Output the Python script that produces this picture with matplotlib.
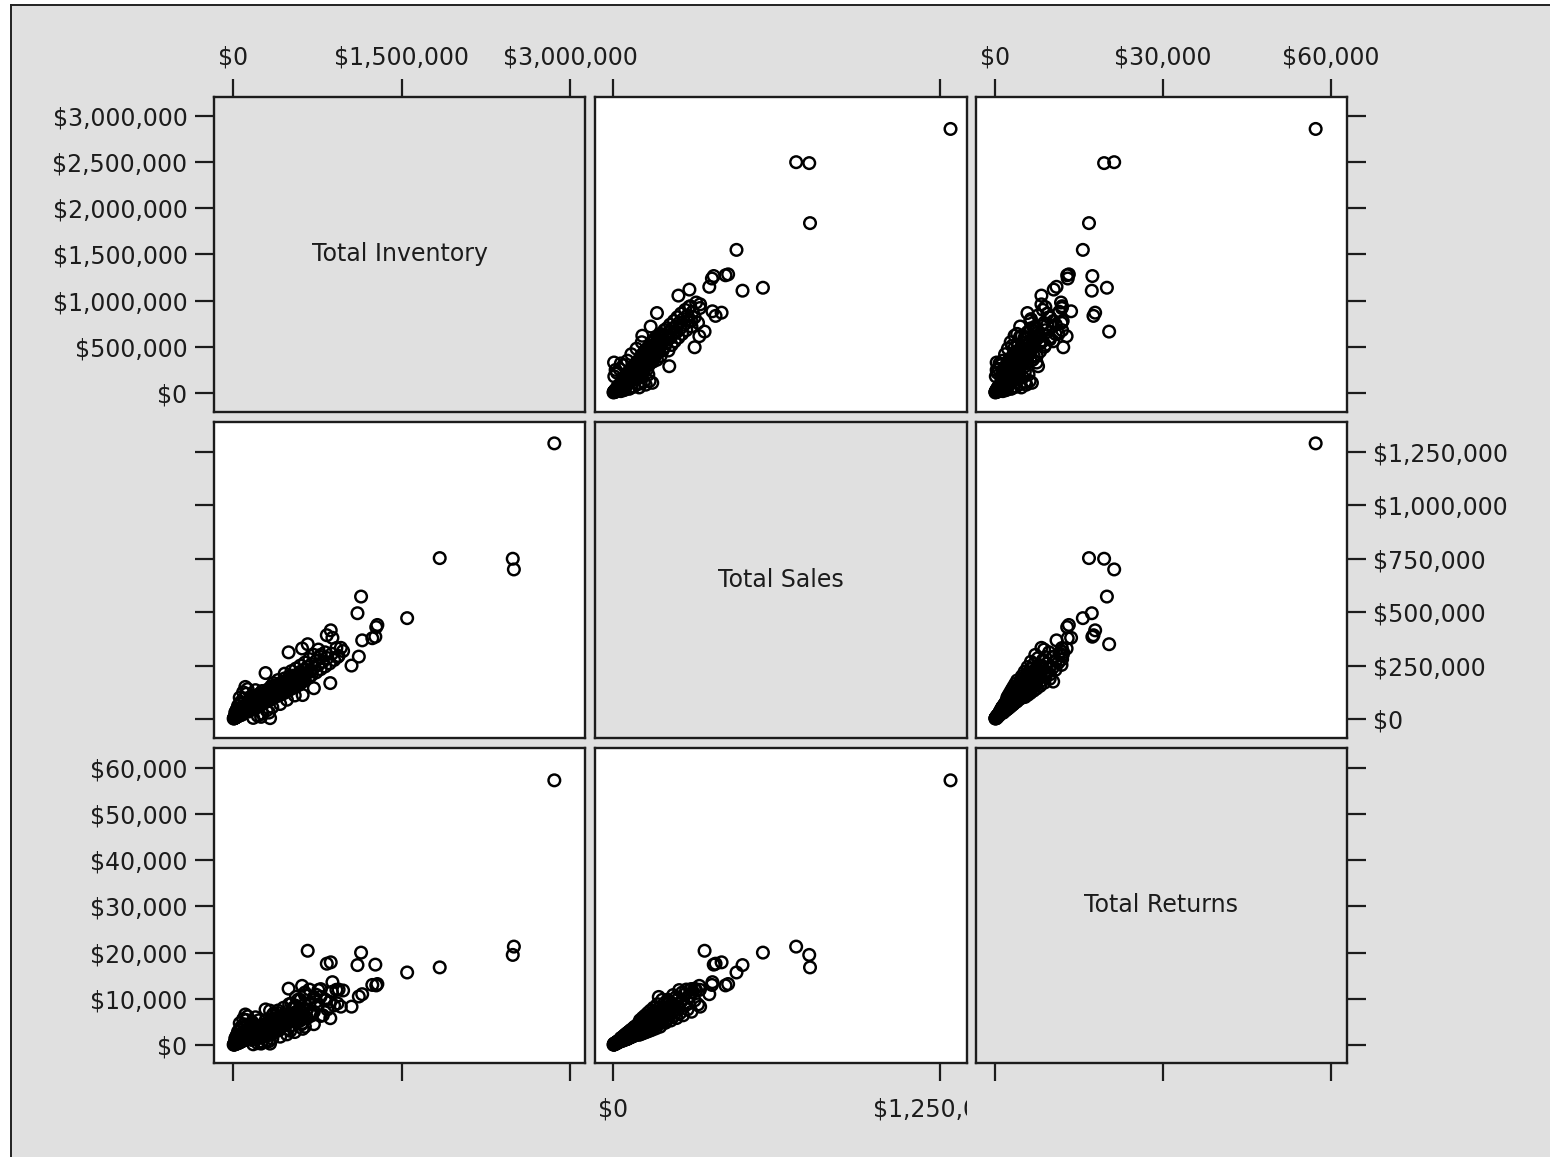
import matplotlib
matplotlib.use("Agg")
import matplotlib.pyplot as plt
from matplotlib.lines import Line2D
from matplotlib.patches import Rectangle
from matplotlib.transforms import Bbox, TransformedBbox
from matplotlib.ticker import FuncFormatter

# ---------------- data (inventory & sales in $ thousands, returns in $) ----------------
variables = ["Total Inventory", "Total Sales", "Total Returns"]

outlier_inventory_k = [2860, 2490, 2500, 1840, 1550, 1140, 1108, 870, 835, 1267,
                       665, 1285, 1275, 885, 1055, 1120, 866, 330, 290, 615,
                       495, 780, 1150, 1240, 720, 620, 930, 960, 560]
outlier_sales_k = [1290, 750, 700, 753, 472, 573, 495, 415, 392, 385,
                   350, 440, 430, 380, 250, 292, 168, 4, 215, 330,
                   312, 300, 368, 378, 144, 112, 290, 333, 175]
outlier_returns = [57300, 19500, 21300, 16800, 15700, 20000, 17300, 17900, 17600, 17400,
                   20400, 13200, 12900, 13600, 8300, 10500, 5800, 300, 7700, 12800,
                   12200, 12100, 11000, 13000, 4500, 3500, 9000, 8300, 10400]

small_inventory_k = [6, 9, 14, 11, 17, 21, 13, 24, 19, 29, 15, 33, 27, 38, 22, 41, 35, 18, 47, 30,
                     52, 39, 26, 58, 44, 63, 34, 55, 70, 48, 29, 66, 53, 75, 40, 61, 82, 47, 71, 88,
                     57, 36, 79, 95, 64, 44, 86, 101, 70, 52, 92, 108, 77, 58, 99, 115, 84, 64, 106, 122]
small_sales_k = [2, 3, 4, 5, 5, 6, 7, 7, 8, 9, 9, 10, 11, 11, 12, 13, 13, 14, 14, 15,
                 16, 16, 17, 17, 18, 18, 19, 19, 20, 20, 21, 22, 22, 23, 24, 24, 25, 26, 26, 27,
                 28, 28, 29, 30, 30, 31, 32, 32, 33, 34, 35, 35, 36, 37, 38, 38, 39, 40, 41, 42]
small_returns = [70, 120, 95, 210, 160, 250, 190, 310, 220, 340, 410, 290, 430, 510, 360, 530, 470, 620, 390, 570,
                 650, 490, 710, 530, 780, 650, 590, 730, 830, 610, 770, 690, 920, 810, 970, 730, 890, 1040, 830, 1010,
                 920, 1130, 980, 1160, 890, 1260, 1010, 1210, 1090, 1310, 1430, 1110, 1360, 1190, 1460, 1560, 1260, 1510, 1320, 1590]

lower_inventory_k = [88, 121, 165, 95, 134, 170, 101, 143, 186, 107, 150, 199, 113, 155, 208, 120, 167, 219, 124, 176,
                     231, 131, 180, 240, 137, 193, 251, 142, 201, 262, 149, 210, 268, 155, 219, 284, 160, 226, 295, 167,
                     235, 299, 172, 244, 318, 178, 247, 320, 185, 261, 338, 190, 263, 349, 197, 277]
lower_sales_k = [43, 44, 45, 46, 47, 48, 49, 50, 51, 52, 53, 54, 55, 56, 57, 58, 59, 60, 61, 62,
                 63, 64, 65, 66, 67, 68, 69, 70, 71, 72, 73, 74, 75, 76, 77, 78, 79, 80, 81, 82,
                 83, 84, 85, 86, 87, 88, 89, 90, 91, 92, 93, 94, 95, 96, 97, 98]
lower_returns = [1940, 1460, 1110, 2050, 1570, 1210, 2180, 1640, 1300, 2330, 1770, 1340, 2470, 1860, 1430, 2590, 1960, 1490, 2760, 2030,
                 1600, 2860, 2170, 1640, 3010, 2220, 1740, 3170, 2360, 1790, 3260, 2420, 1900, 3440, 2550, 1930, 3530, 2660, 2050, 3710,
                 2720, 2120, 3800, 2860, 2160, 3980, 2960, 2270, 4080, 3020, 2350, 4250, 3160, 2380, 4330, 3250]

middle_inventory_k = [250, 330, 210, 290, 370, 260, 310, 400, 240, 340, 280, 420, 300, 360, 230, 390, 320, 450, 270, 350,
                      410, 290, 470, 380, 330, 440, 260, 400, 490, 350, 430, 310, 510, 380, 460, 330, 420, 540, 360, 480,
                      400, 560, 340, 450, 510, 380, 590, 470, 420, 540, 360, 500, 610, 440, 560, 480, 640, 400, 520, 600,
                      460, 560, 680, 500]
middle_sales_k = [100, 101, 102, 103, 104, 106, 107, 108, 109, 110, 112, 113, 114, 115, 116, 118, 119, 120, 121, 122,
                  124, 125, 126, 127, 129, 130, 131, 133, 134, 135, 137, 138, 139, 140, 142, 143, 145, 146, 147, 149,
                  150, 152, 153, 155, 157, 158, 160, 162, 164, 166, 168, 170, 172, 174, 176, 178, 180, 182, 185, 188,
                  190, 193, 196, 198]
middle_returns = [2200, 4140, 3060, 5360, 2700, 3820, 4920, 3560, 2400, 4510, 3360, 5880, 2960, 4140, 5340, 3890, 2620, 4920, 3630, 6340,
                  3220, 4500, 5800, 4190, 2840, 5330, 3930, 6920, 3480, 4860, 6300, 4550, 3060, 5740, 4260, 7440, 3770, 5260, 6760, 4920,
                  3300, 6230, 4590, 8060, 4080, 5690, 7360, 5350, 3610, 6810, 5040, 8840, 4470, 6260, 8100, 5870, 3960, 7460, 5550, 9780,
                  4940, 6950, 9020, 6530]

upper_inventory_k = [620, 540, 700, 580, 460, 660, 740, 600, 520, 700, 640, 780, 560, 720, 660, 820, 600, 760, 700, 860,
                     640, 800, 740, 900, 680, 840, 780, 940, 720, 880, 820, 980, 760, 920]
upper_sales_k = [200, 203, 206, 209, 212, 215, 218, 221, 224, 227, 230, 233, 236, 240, 243, 246, 250, 253, 257, 260,
                 264, 268, 272, 276, 280, 285, 290, 295, 300, 305, 312, 318, 325, 332]
upper_returns = [4800, 8120, 6390, 9820, 5720, 7740, 9370, 5300, 8960, 7040, 10810, 6290, 8500, 10320, 5830, 9840, 7750, 11890, 6940, 9360,
                 11350, 6430, 10880, 8560, 12000, 7700, 10440, 12000, 7200, 11500, 9670, 11800, 8780, 11950]

lean_inventory_k = [30, 80, 45, 110, 60, 130, 70, 150, 95, 60, 170, 120, 90, 200, 130, 110, 20, 55, 35, 100]
lean_sales_k = [40, 50, 62, 55, 70, 68, 80, 85, 95, 100, 110, 118, 125, 135, 140, 150, 30, 35, 45, 58]
lean_returns = [1900, 2400, 2900, 2600, 3300, 3200, 3800, 4000, 4500, 4700, 5000, 5400, 5600, 6000, 6200, 6600, 1400, 1600, 2100, 2700]

heavy_inventory_k = [180, 220, 260, 300, 350, 420, 480, 550, 250, 320]
heavy_sales_k = [5, 15, 25, 40, 55, 70, 90, 110, 10, 30]
heavy_returns = [150, 400, 700, 1000, 1400, 1800, 2300, 2800, 300, 800]

fill_inventory_k = [60, 90, 120, 150, 180, 210, 240, 270, 300, 330, 360, 390, 420, 450, 480, 510, 540, 570, 600, 630,
                    80, 110, 140, 170, 200, 230, 260, 290, 320, 350, 380, 410, 440, 470, 500, 530, 560, 590, 620, 650]
fill_sales_k = [35, 30, 55, 45, 70, 60, 95, 80, 110, 100, 130, 115, 150, 135, 170, 155, 185, 170, 205, 190,
                20, 40, 35, 60, 50, 85, 75, 105, 95, 125, 120, 145, 140, 165, 160, 185, 180, 210, 200, 230]
fill_returns = [900, 1500, 1300, 2100, 1900, 2800, 2400, 3600, 3000, 4300, 3700, 5000, 4200, 5800, 4700, 6500, 5200, 7200, 5700, 7800,
                800, 1200, 1600, 1700, 2300, 2500, 3100, 3200, 3900, 4000, 4700, 4700, 5600, 5400, 6300, 6000, 7100, 6800, 7900, 7500]

inventory_k = (outlier_inventory_k + small_inventory_k + lower_inventory_k + middle_inventory_k
               + upper_inventory_k + lean_inventory_k + heavy_inventory_k + fill_inventory_k)
sales_k = (outlier_sales_k + small_sales_k + lower_sales_k + middle_sales_k
           + upper_sales_k + lean_sales_k + heavy_sales_k + fill_sales_k)
returns = (outlier_returns + small_returns + lower_returns + middle_returns
           + upper_returns + lean_returns + heavy_returns + fill_returns)
assert len(inventory_k) == len(sales_k) == len(returns)

series = [[v * 1000 for v in inventory_k], [v * 1000 for v in sales_k], list(returns)]

inventory_x_ticks = [0, 1500000, 3000000]
inventory_y_ticks = [0, 500000, 1000000, 1500000, 2000000, 2500000, 3000000]
sales_x_ticks = [0, 1250000]
sales_y_ticks = [0, 250000, 500000, 750000, 1000000, 1250000]
returns_x_ticks = [0, 30000, 60000]
returns_y_ticks = [0, 10000, 20000, 30000, 40000, 50000, 60000]

x_ticks = [inventory_x_ticks, sales_x_ticks, returns_x_ticks]
y_ticks = [inventory_y_ticks, sales_y_ticks, returns_y_ticks]

# ---------------- layout ----------------
W, H, DPI = 1550, 1157, 100
BG = "#e0e0e0"
INK = "#1c1c1c"
FONT = "DejaVu Sans"
FS = 17

plt.rcParams["font.family"] = [FONT]

fig = plt.figure(figsize=(W / DPI, H / DPI), dpi=DPI, facecolor=BG)


def px_box(x0, y0, x1, y1):
    return [x0 / W, 1 - y1 / H, (x1 - x0) / W, (y1 - y0) / H]


col_px = [(214, 585), (595, 967), (976, 1347)]
row_px = [(97, 412), (422, 738), (748, 1063)]
x_limits = [(-169000, 3133000), (-68800, 1353000), (-3390, 62900)]
y_limits = [(-206000, 3206000), (-89000, 1390000), (-3900, 64300)]

money = FuncFormatter(lambda v, p: "${:,.0f}".format(v))

for r in range(3):
    for c in range(3):
        ax = fig.add_axes(px_box(col_px[c][0], row_px[r][0], col_px[c][1], row_px[r][1]))
        ax.set_xlim(*x_limits[c])
        ax.set_ylim(*y_limits[r])
        for sp in ax.spines.values():
            sp.set_linewidth(1.7)
            sp.set_color(INK)
        if r == c:
            ax.set_facecolor(BG)
            ax.text(0.5, 0.5, variables[r], transform=ax.transAxes, ha="center", va="center",
                    fontsize=FS, color=INK, family=FONT)
        else:
            ax.set_facecolor("white")
            ax.scatter(series[c], series[r], s=70, facecolors="none", edgecolors="black",
                       linewidths=1.75, zorder=3, clip_on=True)
        ax.set_xticks(x_ticks[c])
        ax.set_yticks(y_ticks[r])
        ax.xaxis.set_major_formatter(money)
        ax.yaxis.set_major_formatter(money)
        ax.tick_params(axis="x", direction="out", length=13, width=1.6, color=INK,
                       labelsize=FS, labelcolor=INK,
                       top=(r == 0), bottom=(r == 2),
                       labeltop=(r == 0 and c != 1), labelbottom=(r == 2 and c == 1))
        ax.tick_params(axis="x", which="major", pad=7 if r == 0 else 12)
        ax.tick_params(axis="y", direction="out", length=14, width=1.6, color=INK,
                       labelsize=FS, labelcolor=INK, pad=5,
                       left=(c == 0), right=(c == 2),
                       labelleft=(c == 0 and r != 1), labelright=(c == 2 and r == 1))
        if r == 2 and c == 1:
            clip = TransformedBbox(Bbox.from_extents(0, 0, 967 / W, 1), fig.transFigure)
            for tk in ax.xaxis.get_major_ticks():
                tk.label1.set_clip_box(clip)
                tk.label1.set_clip_on(True)

# outer frame of the captured window
fig.add_artist(Rectangle((0, 0), 10 / W, 1, transform=fig.transFigure, facecolor="white",
                         edgecolor="none"))
fig.add_artist(Rectangle((0, 1 - 4 / H), 1, 4 / H, transform=fig.transFigure, facecolor="white",
                         edgecolor="none"))
fig.add_artist(Line2D([10.5 / W, 10.5 / W], [0, 1 - 4.5 / H], transform=fig.transFigure,
                      color="#222222", linewidth=1.4))
fig.add_artist(Line2D([10.5 / W, 1], [1 - 4.5 / H, 1 - 4.5 / H], transform=fig.transFigure,
                      color="#222222", linewidth=1.4))

fig.savefig("out.png", dpi=DPI, facecolor=BG)
